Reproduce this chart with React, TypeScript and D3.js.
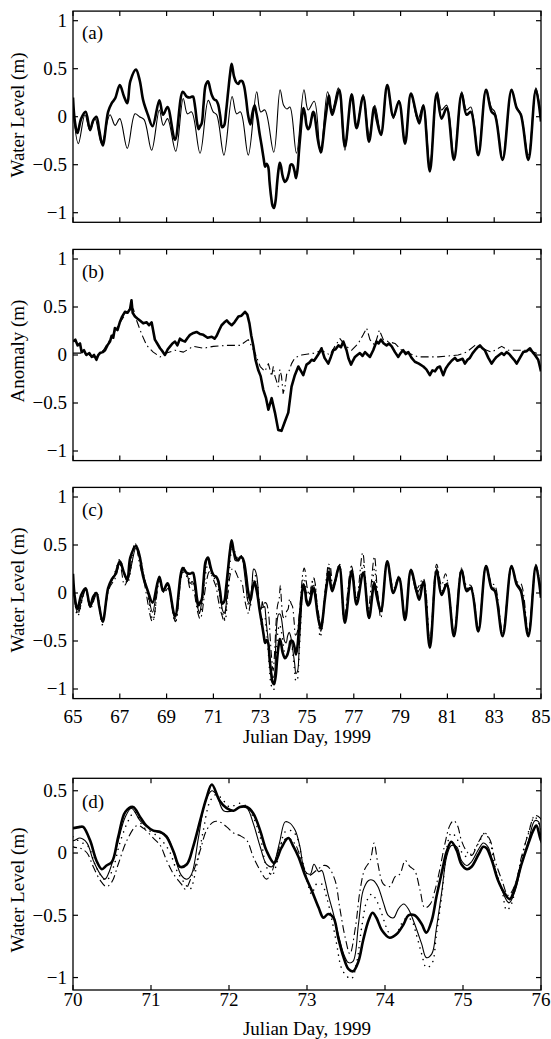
import React from 'react';
import * as d3 from 'd3';

type P = [number, number];

// ---------- tick values ----------
const xTicksMain = [65, 67, 69, 71, 73, 75, 77, 79, 81, 83, 85];
const xTicksZoom = [70, 71, 72, 73, 74, 75, 76];
const yTicksMain = [-1, -0.5, 0, 0.5, 1];
const yTicksZoom = [-1, -0.5, 0, 0.5];

// ---------- observed water level (thick) ----------
const obsEarly: P[] = [
  [65.0, 0.2], [65.08, -0.05], [65.19, -0.17], [65.35, -0.02], [65.54, 0.05], [65.73, -0.14], [65.86, -0.04],
  [66.0, 0.0], [66.12, -0.14], [66.27, -0.3], [66.5, 0.05], [66.65, 0.14], [66.8, 0.19], [67.0, 0.33],
  [67.18, 0.21], [67.32, 0.14], [67.45, 0.37], [67.69, 0.49], [67.85, 0.38], [68.0, 0.17], [68.2, 0.02],
  [68.4, -0.1], [68.69, 0.17], [68.85, 0.02], [69.04, 0.1], [69.36, -0.24], [69.69, 0.26], [69.86, 0.21],
];
const obsMid: P[] = [
  [70.0, 0.2], [70.09, 0.21], [70.13, 0.21], [70.22, 0.1], [70.3, -0.06], [70.37, -0.13], [70.43, -0.1],
  [70.5, -0.07], [70.58, 0.13], [70.67, 0.33], [70.77, 0.37], [70.86, 0.29], [70.94, 0.22], [71.03, 0.18],
  [71.12, 0.17], [71.2, 0.13], [71.29, 0.01], [71.37, -0.11], [71.46, -0.09], [71.54, 0.05], [71.63, 0.26],
  [71.71, 0.44], [71.78, 0.55], [71.88, 0.42], [71.97, 0.36], [72.06, 0.34], [72.14, 0.37], [72.23, 0.37],
  [72.31, 0.32], [72.4, 0.18], [72.48, 0.02], [72.58, -0.08], [72.67, 0.04], [72.76, 0.12], [72.82, 0.06],
  [72.89, -0.03], [72.97, -0.17], [73.06, -0.3], [73.15, -0.44], [73.21, -0.52], [73.27, -0.49], [73.34, -0.52],
  [73.4, -0.68], [73.47, -0.84], [73.53, -0.93], [73.59, -0.95], [73.66, -0.87], [73.72, -0.7], [73.79, -0.54],
  [73.84, -0.48], [73.89, -0.52], [73.96, -0.62], [74.06, -0.68], [74.15, -0.65], [74.24, -0.57], [74.3, -0.5],
  [74.38, -0.5], [74.47, -0.57], [74.53, -0.64], [74.6, -0.54], [74.66, -0.35], [74.73, -0.15], [74.79, 0.01],
  [74.85, 0.09], [74.92, 0.02], [74.98, -0.09], [75.05, -0.13], [75.11, -0.11], [75.2, -0.01], [75.26, 0.05],
  [75.3, 0.04], [75.37, -0.06], [75.45, -0.22], [75.54, -0.33], [75.6, -0.37], [75.67, -0.27], [75.75, -0.09],
  [75.84, 0.08], [75.9, 0.18], [75.94, 0.22], [76.0, 0.1],
];
const obsLate: P[] = [
  [76.08, 0.02], [76.2, 0.12], [76.38, 0.28], [76.62, -0.31], [76.91, 0.23], [77.12, -0.12], [77.4, 0.21],
  [77.65, -0.26], [77.87, 0.1], [77.97, -0.02], [78.16, -0.19], [78.43, 0.33], [78.69, 0.0], [78.93, 0.16],
  [79.19, -0.28], [79.44, 0.24], [79.68, 0.02], [79.8, -0.07], [79.97, 0.12], [80.25, -0.57], [80.54, 0.24],
  [80.75, -0.02], [80.97, 0.09], [81.28, -0.45], [81.61, 0.24], [81.82, 0.02], [82.0, 0.05], [82.32, -0.4],
  [82.65, 0.28], [82.89, 0.05], [83.03, 0.02], [83.36, -0.45], [83.74, 0.28], [83.96, 0.09], [84.14, 0.02],
  [84.46, -0.45], [84.78, 0.28], [85.0, -0.05],
];

// ---------- predicted tide (thin, panel a) ----------
const tide: P[] = [
  [65.0, 0.07], [65.23, -0.28], [65.51, 0.02], [65.72, -0.14], [65.94, -0.02], [66.22, -0.28], [66.58, 0.02],
  [66.8, -0.09], [67.0, -0.02], [67.32, -0.33], [67.65, 0.03], [67.84, 0.0], [68.04, -0.03], [68.36, -0.35],
  [68.69, 0.07], [68.86, -0.09], [69.04, -0.02], [69.39, -0.36], [69.71, 0.19], [69.89, 0.03], [70.07, 0.05],
  [70.43, -0.38], [70.78, 0.17], [70.99, 0.05], [71.14, 0.02], [71.45, -0.4], [71.8, 0.21], [71.99, 0.03],
  [72.16, 0.05], [72.49, -0.4], [72.85, 0.26], [73.02, 0.05], [73.2, 0.07], [73.58, -0.37], [73.85, 0.28],
  [74.0, 0.12], [74.14, 0.08], [74.27, 0.1], [74.55, -0.38], [74.87, 0.28], [75.05, 0.07], [75.31, 0.16],
  [75.58, -0.38], [75.88, 0.26], [76.08, 0.07], [76.34, 0.3], [76.62, -0.35], [76.91, 0.24], [77.12, -0.1],
  [77.4, 0.23], [77.66, -0.19], [77.9, 0.12], [78.16, -0.17], [78.43, 0.31], [78.69, -0.02], [78.93, 0.17],
  [79.19, -0.28], [79.44, 0.24], [79.73, -0.03], [79.97, 0.12], [80.25, -0.49], [80.57, 0.26], [80.75, 0.07],
  [80.97, 0.12], [81.28, -0.42], [81.61, 0.26], [81.82, 0.07], [82.0, 0.1], [82.32, -0.38], [82.65, 0.28],
  [82.89, 0.09], [83.03, 0.05], [83.36, -0.43], [83.74, 0.28], [83.96, 0.1], [84.14, 0.03], [84.46, -0.4],
  [84.78, 0.3], [85.0, 0.0],
];

// ---------- anomaly (panel b) ----------
const anomalyObs: P[] = [
  [65.0, 0.14], [65.1, 0.16], [65.2, 0.1], [65.3, 0.12], [65.37, 0.03], [65.47, 0.05], [65.57, 0.0], [65.7, 0.02],
  [65.8, -0.02], [65.9, 0.0], [66.0, -0.05], [66.08, 0.0], [66.15, 0.02], [66.27, 0.03], [66.37, 0.05],
  [66.47, 0.1], [66.58, 0.14], [66.65, 0.2], [66.72, 0.18], [66.79, 0.28], [66.9, 0.26], [67.0, 0.34],
  [67.1, 0.4], [67.22, 0.45], [67.33, 0.44], [67.44, 0.48], [67.5, 0.57], [67.55, 0.44], [67.65, 0.4],
  [67.75, 0.38], [67.86, 0.36], [68.0, 0.33], [68.15, 0.34], [68.25, 0.31], [68.36, 0.34], [68.5, 0.16],
  [68.6, 0.12], [68.72, 0.07], [68.82, 0.04], [68.93, 0.0], [69.05, 0.06], [69.15, 0.09], [69.25, 0.12],
  [69.36, 0.14], [69.46, 0.1], [69.57, 0.17], [69.68, 0.15], [69.79, 0.14], [69.9, 0.18], [70.0, 0.21],
  [70.15, 0.23], [70.28, 0.24], [70.42, 0.22], [70.57, 0.21], [70.75, 0.18], [70.93, 0.19], [71.05, 0.17],
  [71.14, 0.2], [71.25, 0.26], [71.35, 0.31], [71.47, 0.34], [71.57, 0.36], [71.68, 0.33], [71.78, 0.31],
  [71.9, 0.34], [72.07, 0.4], [72.2, 0.41], [72.35, 0.45], [72.45, 0.42], [72.54, 0.33], [72.62, 0.2],
  [72.71, 0.09], [72.8, -0.05], [72.92, -0.16], [73.02, -0.22], [73.13, -0.36], [73.25, -0.45],
  [73.35, -0.57], [73.49, -0.45], [73.63, -0.6], [73.77, -0.78], [73.91, -0.79], [74.06, -0.69],
  [74.2, -0.6], [74.34, -0.33], [74.48, -0.21], [74.63, -0.12], [74.75, -0.17], [74.84, -0.21], [74.98, -0.1],
  [75.1, -0.08], [75.2, -0.05], [75.3, -0.06], [75.41, -0.02], [75.52, 0.02], [75.62, 0.07], [75.75, -0.03],
  [75.91, -0.09], [76.02, -0.02], [76.12, 0.05], [76.22, 0.06], [76.34, 0.1], [76.45, 0.08], [76.55, 0.14],
  [76.69, 0.05], [76.78, -0.04], [76.88, -0.1], [76.96, -0.06], [77.05, -0.02], [77.15, 0.0], [77.26, 0.02],
  [77.37, -0.01], [77.48, 0.03], [77.6, 0.0], [77.69, -0.02], [77.83, 0.05], [77.97, 0.14], [78.06, 0.12],
  [78.16, 0.16], [78.28, 0.12], [78.4, 0.1], [78.5, 0.12], [78.62, 0.09], [78.76, 0.03], [78.9, -0.02],
  [79.0, 0.02], [79.11, 0.05], [79.22, 0.01], [79.33, 0.03], [79.47, -0.03], [79.61, -0.07], [79.78, -0.09],
  [79.97, -0.12], [80.1, -0.15], [80.25, -0.21], [80.36, -0.16], [80.47, -0.17], [80.58, -0.13],
  [80.68, -0.12], [80.82, -0.21], [80.93, -0.14], [81.04, -0.1], [81.18, -0.06], [81.32, -0.03],
  [81.43, -0.06], [81.54, -0.05], [81.65, -0.04], [81.75, -0.09], [81.86, -0.05], [81.96, -0.03],
  [82.08, 0.02], [82.18, 0.05], [82.29, 0.08], [82.39, 0.1], [82.5, 0.07], [82.6, 0.05], [82.75, -0.03],
  [82.89, -0.09], [83.0, -0.05], [83.1, -0.02], [83.21, 0.0], [83.32, 0.02], [83.42, 0.0], [83.53, 0.03],
  [83.64, 0.01], [83.74, -0.02], [83.85, -0.05], [83.96, -0.09], [84.1, -0.03], [84.24, 0.03],
  [84.38, 0.04], [84.53, 0.07], [84.64, 0.03], [84.74, 0.0], [84.88, -0.05], [84.95, -0.12], [85.0, -0.17],
];
const anomalyModel: P[] = [
  [65.0, 0.02], [65.44, 0.02], [66.01, -0.03], [66.3, 0.05], [66.58, 0.16], [67.01, 0.34], [67.36, 0.47],
  [67.58, 0.48], [67.72, 0.36], [67.93, 0.22], [68.15, 0.1], [68.43, 0.03], [68.72, -0.02], [69.0, 0.02],
  [69.36, 0.05], [69.72, 0.03], [70.14, 0.09], [70.57, 0.07], [71.0, 0.09], [71.57, 0.1], [72.14, 0.1],
  [72.49, 0.16], [72.78, 0.02], [73.0, -0.12], [73.2, -0.17], [73.35, -0.09], [73.49, -0.22], [73.56, -0.12],
  [73.63, -0.22], [73.77, -0.33], [73.84, -0.15], [73.91, -0.22], [73.98, -0.4], [74.06, -0.33], [74.13, -0.2],
  [74.2, -0.19], [74.34, -0.09], [74.48, -0.03], [74.77, 0.0], [75.05, 0.01], [75.34, 0.02], [75.62, 0.05],
  [75.98, 0.0], [76.19, 0.09], [76.41, 0.17], [76.62, 0.1], [76.91, 0.05], [77.19, 0.12], [77.4, 0.21],
  [77.55, 0.28], [77.69, 0.16], [77.9, 0.1], [78.09, 0.26], [78.26, 0.16], [78.47, 0.14], [78.76, 0.12],
  [79.04, 0.05], [79.33, 0.02], [79.76, -0.02], [80.18, -0.02], [80.61, -0.02], [81.04, -0.01], [81.46, 0.0],
  [81.82, 0.03], [82.18, 0.1], [82.46, 0.07], [82.89, 0.03], [83.32, 0.09], [83.6, 0.05], [84.03, 0.05],
  [84.46, 0.05], [85.0, 0.0],
];

// ---------- model 1 (thin solid) ----------
const m1Early: P[] = [
  [65.0, 0.15], [65.19, -0.2], [65.54, 0.04], [65.73, -0.15], [66.0, 0.0], [66.25, -0.3], [66.5, 0.03],
  [66.8, 0.2], [67.0, 0.3], [67.18, 0.2], [67.32, 0.12], [67.69, 0.47], [67.85, 0.36], [68.0, 0.2],
  [68.2, 0.0], [68.4, -0.2], [68.69, 0.15], [68.85, 0.03], [69.04, 0.08], [69.36, -0.27], [69.69, 0.24],
  [69.86, 0.2],
];
const m1Mid: P[] = [
  [70.0, 0.1], [70.09, 0.12], [70.18, 0.08], [70.26, -0.06], [70.35, -0.17], [70.41, -0.21], [70.47, -0.14],
  [70.56, 0.05], [70.67, 0.29], [70.75, 0.36], [70.86, 0.26], [70.97, 0.2], [71.07, 0.17], [71.2, 0.14],
  [71.29, 0.0], [71.39, -0.18], [71.46, -0.21], [71.52, -0.17], [71.61, 0.13], [71.69, 0.4], [71.78, 0.5],
  [71.84, 0.47], [71.93, 0.34], [72.06, 0.34], [72.14, 0.37], [72.23, 0.36], [72.31, 0.24], [72.4, 0.05],
  [72.48, -0.09], [72.55, -0.11], [72.59, -0.06], [72.65, 0.09], [72.72, 0.25], [72.78, 0.24], [72.85, 0.18],
  [72.91, 0.05], [72.97, -0.14], [73.04, -0.17], [73.09, -0.09], [73.15, -0.15], [73.19, -0.14],
  [73.23, -0.22], [73.27, -0.33], [73.34, -0.49], [73.4, -0.65], [73.47, -0.81], [73.53, -0.88],
  [73.59, -0.87], [73.66, -0.57], [73.72, -0.3], [73.79, -0.22], [73.85, -0.22], [73.91, -0.27],
  [73.98, -0.4], [74.04, -0.5], [74.11, -0.52], [74.17, -0.45], [74.24, -0.41], [74.3, -0.45], [74.38, -0.57],
  [74.47, -0.73], [74.53, -0.84], [74.6, -0.81], [74.66, -0.6], [74.73, -0.3], [74.79, -0.03], [74.85, 0.06],
  [74.92, 0.05], [74.98, -0.06], [75.05, -0.1], [75.11, -0.07], [75.2, 0.03], [75.26, 0.08], [75.32, 0.05],
  [75.39, -0.09], [75.47, -0.25], [75.59, -0.4], [75.67, -0.3], [75.75, -0.09], [75.84, 0.1], [75.92, 0.26],
  [75.97, 0.25], [76.0, 0.13],
];
const m1Late: P[] = [
  [76.08, 0.03], [76.2, 0.1], [76.38, 0.26], [76.62, -0.28], [76.91, 0.22], [77.12, -0.1], [77.4, 0.22],
  [77.65, -0.22], [77.87, 0.12], [78.0, 0.0], [78.16, -0.17], [78.43, 0.3], [78.69, 0.0], [78.93, 0.15],
  [79.19, -0.26], [79.44, 0.22], [79.7, 0.0], [79.97, 0.1], [80.25, -0.52], [80.54, 0.22], [80.75, 0.0],
  [80.97, 0.1], [81.28, -0.42], [81.61, 0.22], [81.82, 0.04], [82.0, 0.06], [82.32, -0.38], [82.65, 0.26],
  [82.89, 0.06], [83.03, 0.03], [83.36, -0.42], [83.74, 0.26], [83.96, 0.1], [84.14, 0.04], [84.46, -0.42],
  [84.78, 0.27], [85.0, -0.02],
];

// ---------- model 2 (dash-dot) ----------
const m2Early: P[] = [
  [65.0, 0.1], [65.2, -0.22], [65.54, 0.03], [65.75, -0.16], [66.0, -0.02], [66.27, -0.28], [66.55, 0.05],
  [66.8, 0.15], [67.0, 0.3], [67.2, 0.08], [67.35, 0.15], [67.65, 0.52], [67.85, 0.3], [68.05, 0.1],
  [68.4, -0.3], [68.7, 0.12], [68.9, 0.0], [69.06, 0.05], [69.38, -0.3], [69.7, 0.22], [69.9, 0.15],
];
const m2Mid: P[] = [
  [70.0, 0.05], [70.09, 0.04], [70.18, 0.0], [70.26, -0.11], [70.35, -0.22], [70.43, -0.27], [70.5, -0.23],
  [70.58, -0.09], [70.69, 0.1], [70.82, 0.22], [70.9, 0.2], [71.03, 0.12], [71.12, 0.06], [71.2, -0.06],
  [71.29, -0.17], [71.39, -0.25], [71.44, -0.29], [71.52, -0.19], [71.63, 0.02], [71.71, 0.18], [71.8, 0.25],
  [71.88, 0.25], [71.97, 0.21], [72.06, 0.16], [72.14, 0.14], [72.23, 0.1], [72.31, -0.03], [72.4, -0.14],
  [72.48, -0.21], [72.55, -0.15], [72.61, -0.02], [72.68, 0.09], [72.76, 0.12], [72.85, 0.07], [72.93, -0.06],
  [73.02, -0.18], [73.12, -0.14], [73.21, -0.1], [73.27, -0.11], [73.36, -0.22], [73.42, -0.44],
  [73.49, -0.68], [73.55, -0.81], [73.62, -0.6], [73.68, -0.3], [73.74, -0.13], [73.81, -0.06], [73.86, 0.08],
  [73.91, -0.09], [73.98, -0.25], [74.06, -0.27], [74.13, -0.19], [74.19, -0.17], [74.26, -0.06],
  [74.32, -0.11], [74.38, -0.14], [74.45, -0.3], [74.51, -0.44], [74.58, -0.41], [74.64, -0.3], [74.7, -0.14],
  [74.77, 0.08], [74.83, 0.22], [74.88, 0.26], [74.93, 0.22], [74.98, 0.1], [75.05, 0.01], [75.11, -0.02],
  [75.2, 0.09], [75.28, 0.16], [75.35, 0.1], [75.41, -0.06], [75.5, -0.22], [75.58, -0.34], [75.67, -0.25],
  [75.75, -0.03], [75.84, 0.16], [75.92, 0.3], [75.99, 0.28],
];
const m2Late: P[] = [
  [76.1, 0.08], [76.22, 0.15], [76.4, 0.3], [76.58, -0.28], [76.9, 0.28], [77.12, -0.05], [77.38, 0.42],
  [77.6, -0.2], [77.88, 0.38], [78.0, 0.05], [78.16, -0.26], [78.42, 0.32], [78.7, 0.05], [78.93, 0.18],
  [79.19, -0.25], [79.44, 0.25], [79.7, 0.05], [79.97, 0.15], [80.25, -0.48], [80.54, 0.3], [80.75, 0.08],
  [80.92, 0.2], [81.28, -0.4], [81.6, 0.26], [81.82, 0.08], [82.0, 0.08], [82.32, -0.36], [82.65, 0.28],
  [82.89, 0.1], [83.03, 0.08], [83.36, -0.4], [83.74, 0.28], [83.96, 0.12], [84.14, 0.1], [84.46, -0.4],
  [84.78, 0.3], [85.0, 0.02],
];

// ---------- model 3 (dotted) ----------
const m3Early: P[] = [
  [65.0, 0.18], [65.2, -0.24], [65.54, 0.06], [65.73, -0.13], [66.0, 0.02], [66.25, -0.33], [66.5, 0.04],
  [66.8, 0.22], [67.0, 0.35], [67.2, 0.18], [67.33, 0.1], [67.68, 0.5], [67.85, 0.4], [68.0, 0.22],
  [68.2, -0.02], [68.42, -0.28], [68.7, 0.17], [68.87, 0.0], [69.05, 0.1], [69.37, -0.3], [69.7, 0.27],
  [69.88, 0.2],
];
const m3Mid: P[] = [
  [70.0, 0.13], [70.09, 0.09], [70.2, 0.05], [70.28, -0.09], [70.37, -0.19], [70.43, -0.22], [70.52, -0.11],
  [70.6, 0.08], [70.71, 0.26], [70.79, 0.33], [70.9, 0.21], [71.03, 0.16], [71.14, 0.1], [71.24, 0.01],
  [71.33, -0.14], [71.44, -0.25], [71.5, -0.29], [71.59, -0.09], [71.67, 0.18], [71.76, 0.42], [71.84, 0.47],
  [71.93, 0.42], [72.01, 0.37], [72.14, 0.4], [72.23, 0.37], [72.31, 0.29], [72.4, 0.13], [72.48, -0.11],
  [72.55, -0.18], [72.6, -0.11], [72.65, 0.02], [72.72, 0.17], [72.8, 0.18], [72.87, 0.13], [72.93, -0.03],
  [73.0, -0.22], [73.06, -0.33], [73.12, -0.25], [73.19, -0.25], [73.25, -0.35], [73.32, -0.54],
  [73.38, -0.73], [73.44, -0.92], [73.51, -0.99], [73.57, -1.01], [73.64, -0.87], [73.7, -0.6], [73.77, -0.38],
  [73.83, -0.33], [73.89, -0.38], [73.96, -0.49], [74.02, -0.6], [74.09, -0.68], [74.15, -0.65], [74.21, -0.57],
  [74.28, -0.52], [74.34, -0.54], [74.4, -0.65], [74.47, -0.81], [74.53, -0.92], [74.6, -0.89], [74.66, -0.65],
  [74.73, -0.33], [74.77, -0.09], [74.81, 0.1], [74.85, 0.16], [74.92, 0.12], [74.98, 0.01], [75.05, -0.03],
  [75.13, 0.01], [75.2, 0.08], [75.28, 0.16], [75.35, 0.08], [75.41, -0.11], [75.5, -0.3], [75.56, -0.46],
  [75.62, -0.41], [75.69, -0.22], [75.77, 0.0], [75.86, 0.21], [75.92, 0.29], [75.99, 0.21],
];
const m3Late: P[] = [
  [76.08, 0.05], [76.2, 0.12], [76.38, 0.3], [76.62, -0.3], [76.91, 0.25], [77.12, -0.1], [77.4, 0.3],
  [77.65, -0.24], [77.88, 0.25], [78.0, 0.0], [78.16, -0.2], [78.43, 0.33], [78.69, 0.02], [78.93, 0.16],
  [79.19, -0.27], [79.44, 0.24], [79.7, 0.02], [79.97, 0.12], [80.25, -0.54], [80.54, 0.26], [80.75, 0.02],
  [80.97, 0.12], [81.28, -0.44], [81.61, 0.25], [81.82, 0.05], [82.0, 0.07], [82.32, -0.4], [82.65, 0.28],
  [82.89, 0.07], [83.03, 0.04], [83.36, -0.44], [83.74, 0.28], [83.96, 0.1], [84.14, 0.04], [84.46, -0.44],
  [84.78, 0.29], [85.0, -0.03],
];

const observed = [...obsEarly, ...obsMid, ...obsLate];
const model1 = [...m1Early, ...m1Mid, ...m1Late];
const model2 = [...m2Early, ...m2Mid, ...m2Late];
const model3 = [...m3Early, ...m3Mid, ...m3Late];

// ---------- styling ----------
const W = 551;
const H = 1039;
const LEFT = 73;
const RIGHT = 541;
const FONT = 'Liberation Serif, Times New Roman, Times, serif';
const FS = 19;

type Style = 'thick' | 'thin' | 'dashdot' | 'dotted';
const styleProps: Record<Style, React.SVGProps<SVGPathElement>> = {
  thick: { strokeWidth: 2.6 },
  thin: { strokeWidth: 1.1 },
  dashdot: { strokeWidth: 1.1, strokeDasharray: '8 3.5 1.5 3.5' },
  dotted: { strokeWidth: 1.5, strokeDasharray: '0.1 6', strokeLinecap: 'round' },
};

const fmt = (v: number) => (v < 0 ? '\u2212' + String(Math.abs(v)) : String(v));

interface PanelProps {
  id: string;
  top: number;
  bottom: number;
  xDomain: [number, number];
  yDomain: [number, number];
  xTicks: number[];
  yTicks: number[];
  showXLabels: boolean;
  xLabelBaseline?: number;
  xTitleBaseline?: number;
  label: string;
  labelBaseline: number;
  ylabel: string;
  ylabelCenter: number;
  series: { data: P[]; style: Style }[];
  smooth: boolean;
}

function Panel(p: PanelProps) {
  const x = d3.scaleLinear().domain(p.xDomain).range([LEFT, RIGHT]);
  const y = d3.scaleLinear().domain(p.yDomain).range([p.bottom, p.top]);
  const line = d3
    .line<P>()
    .x((d) => x(d[0]))
    .y((d) => y(d[1]))
    .curve(p.smooth ? d3.curveCatmullRom.alpha(0.5) : d3.curveLinear);
  const clipId = 'clip-' + p.id;
  const TL = 5;
  return (
    <g>
      <defs>
        <clipPath id={clipId}>
          <rect x={LEFT} y={p.top} width={RIGHT - LEFT} height={p.bottom - p.top} />
        </clipPath>
      </defs>
      <g clipPath={`url(#${clipId})`}>
        {p.series.map((s, i) => (
          <path
            key={i}
            d={line(s.data) || ''}
            fill="none"
            stroke="#000"
            strokeLinejoin="round"
            {...styleProps[s.style]}
          />
        ))}
      </g>
      <rect x={LEFT} y={p.top} width={RIGHT - LEFT} height={p.bottom - p.top} fill="none" stroke="#000" strokeWidth={1.3} />
      {p.xTicks.map((t) => (
        <g key={'xt' + t}>
          <line x1={x(t)} x2={x(t)} y1={p.bottom} y2={p.bottom - TL} stroke="#000" strokeWidth={1.2} />
          <line x1={x(t)} x2={x(t)} y1={p.top} y2={p.top + TL} stroke="#000" strokeWidth={1.2} />
        </g>
      ))}
      {p.yTicks.map((t) => (
        <g key={'yt' + t}>
          <line x1={LEFT} x2={LEFT + TL} y1={y(t)} y2={y(t)} stroke="#000" strokeWidth={1.2} />
          <line x1={RIGHT} x2={RIGHT - TL} y1={y(t)} y2={y(t)} stroke="#000" strokeWidth={1.2} />
          <text x={67} y={y(t)} dy="0.34em" textAnchor="end" fontSize={FS} fontFamily={FONT}>
            {fmt(t)}
          </text>
        </g>
      ))}
      {p.showXLabels &&
        p.xTicks.map((t) => (
          <text key={'xl' + t} x={x(t)} y={p.xLabelBaseline} textAnchor="middle" fontSize={FS} fontFamily={FONT}>
            {String(t)}
          </text>
        ))}
      {p.showXLabels && (
        <text x={(LEFT + RIGHT) / 2} y={p.xTitleBaseline} textAnchor="middle" fontSize={FS} fontFamily={FONT}>
          Julian Day, 1999
        </text>
      )}
      <text x={82} y={p.labelBaseline} fontSize={FS} fontFamily={FONT}>
        {p.label}
      </text>
      <text
        transform={`translate(24,${p.ylabelCenter}) rotate(-90)`}
        textAnchor="middle"
        fontSize={FS}
        fontFamily={FONT}
      >
        {p.ylabel}
      </text>
    </g>
  );
}

export default function App() {
  return (
    <svg
      width={W}
      height={H}
      viewBox={`0 0 ${W} ${H}`}
      style={{ position: 'absolute', left: 0, top: 0, background: '#fff', display: 'block' }}
    >
      <rect x={0} y={0} width={W} height={H} fill="#fff" />
      <Panel
        id="a"
        top={11.1}
        bottom={222.3}
        xDomain={[65, 85]}
        yDomain={[-1.1, 1.1]}
        xTicks={xTicksMain}
        yTicks={yTicksMain}
        showXLabels={false}
        label="(a)"
        labelBaseline={39}
        ylabel="Water Level (m)"
        ylabelCenter={115}
        smooth={true}
        series={[
          { data: tide, style: 'thin' },
          { data: observed, style: 'thick' },
        ]}
      />
      <Panel
        id="b"
        top={249.4}
        bottom={460.6}
        xDomain={[65, 85]}
        yDomain={[-1.1, 1.1]}
        xTicks={xTicksMain}
        yTicks={yTicksMain}
        showXLabels={false}
        label="(b)"
        labelBaseline={278}
        ylabel="Anomaly (m)"
        ylabelCenter={351}
        smooth={false}
        series={[
          { data: anomalyModel, style: 'dashdot' },
          { data: anomalyObs, style: 'thick' },
        ]}
      />
      <Panel
        id="c"
        top={487.4}
        bottom={698.6}
        xDomain={[65, 85]}
        yDomain={[-1.1, 1.1]}
        xTicks={xTicksMain}
        yTicks={yTicksMain}
        showXLabels={true}
        xLabelBaseline={723}
        xTitleBaseline={743}
        label="(c)"
        labelBaseline={516}
        ylabel="Water Level (m)"
        ylabelCenter={590}
        smooth={true}
        series={[
          { data: model3, style: 'dotted' },
          { data: model2, style: 'dashdot' },
          { data: model1, style: 'thin' },
          { data: observed, style: 'thick' },
        ]}
      />
      <Panel
        id="d"
        top={778.3}
        bottom={990}
        xDomain={[70, 76]}
        yDomain={[-1.1, 0.6]}
        xTicks={xTicksZoom}
        yTicks={yTicksZoom}
        showXLabels={true}
        xLabelBaseline={1006}
        xTitleBaseline={1035}
        label="(d)"
        labelBaseline={808}
        ylabel="Water Level (m)"
        ylabelCenter={890}
        smooth={true}
        series={[
          { data: model3, style: 'dotted' },
          { data: model2, style: 'dashdot' },
          { data: model1, style: 'thin' },
          { data: observed, style: 'thick' },
        ]}
      />
    </svg>
  );
}
